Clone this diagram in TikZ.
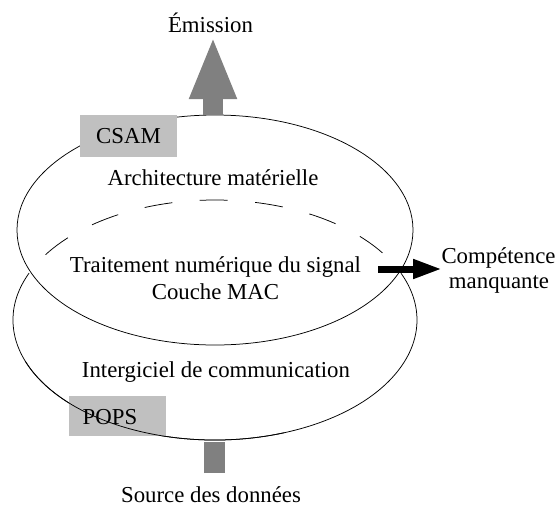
\documentclass[tikz,border=0pt]{standalone}
\usepackage{fontspec}
\setmainfont{Liberation Serif}
\usetikzlibrary{arrows.meta}
\definecolor{arrowgray}{RGB}{128,128,128}
\definecolor{boxgray}{RGB}{192,192,192}
\definecolor{shadowgray}{RGB}{185,185,185}
\begin{document}
\begin{tikzpicture}[x=1pt,y=1pt,
  txt/.style={font=\fontsize{22.8}{27}\selectfont, inner sep=0pt, anchor=base},
  boxstyle/.style={fill=boxgray, draw=none, inner sep=0pt},
  ring/.style={line width=0.75pt, black},
  blockarrow/.style={line width=20pt, arrowgray, -{Triangle[width=43pt,length=63pt]}},
  missing/.style={line width=7pt, black, -{Triangle[width=18pt,length=29pt]}}
]
\useasboundingbox (0,0) rectangle (557,-507);

% centres of the two discs
\coordinate (uc) at (215,-230);
\coordinate (lc) at (215,-320);

% upper disc
\draw[ring] (uc) ellipse [x radius=198, y radius=115];

% lower disc: visible part solid, hidden part dashed
\draw[ring] (lc) ++(157:202 and 120) arc[start angle=157, end angle=383, x radius=202, y radius=120];
\draw[ring, dash pattern=on 28pt off 27.5pt] (lc) ++(147:202 and 120) arc[start angle=147, end angle=34, x radius=202, y radius=120];

% emission arrow
\coordinate (emitbase) at (213,-115);
\coordinate (emittip) at (213,-36);
\draw[blockarrow] (emitbase) -- (emittip);
\node[txt] (emis) at (210.5,-32) {Émission};

% CSAM box
\node[boxstyle, minimum width=97pt, minimum height=42pt, font=\fontsize{22.8}{27}\selectfont] (csam) at (128.5,-136) {CSAM};

% texts inside discs
\node[txt] (arch) at (213,-185) {Architecture matérielle};
\node[txt] (trait) at (215.5,-272) {Traitement numérique du signal};
\node[txt] (mac) at (215.5,-299) {Couche MAC};
\node[txt] (inter) at (216,-377) {Intergiciel de communication};

% missing competence arrow
\coordinate (cmstart) at (378,-269);
\coordinate (cmtip) at (442,-269);
\draw[missing, shadowgray, xshift=-2pt, yshift=-2pt] (cmstart) -- (cmtip);
\draw[missing] (cmstart) -- (cmtip);
\node[txt] (comp) at (498.5,-263) {Compétence};
\node[txt] (manq) at (499,-288) {manquante};

% POPS box (disc outline runs over it)
\node[boxstyle, minimum width=97pt, minimum height=40pt] (popsbox) at (117.5,-416) {};
\node[txt] (pops) at (110,-424) {POPS};
\draw[ring] (lc) ++(200:202 and 120) arc[start angle=200, end angle=290, x radius=202, y radius=120];

% data source bar
\coordinate (srctop) at (214.5,-442);
\coordinate (srcbot) at (214.5,-473);
\draw[line width=21pt, arrowgray] (srcbot) -- (srctop);
\node[txt] (src) at (211,-502) {Source des données};
\end{tikzpicture}
\end{document}
